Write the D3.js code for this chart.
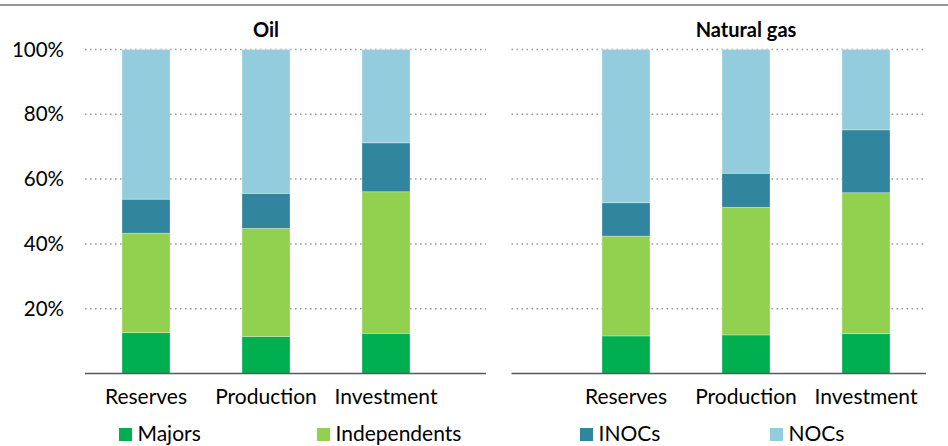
<!DOCTYPE html>
<html>
<head>
<meta charset="utf-8">
<script src="https://cdn.jsdelivr.net/npm/d3@7"></script>
<style>
  html, body { margin: 0; padding: 0; background: #fff; }
  svg { display: block; }
  text { font-family: Lato, "Open Sans", sans-serif; fill: #000; }
</style>
</head>
<body>
<svg id="chart" width="948" height="446"></svg>
<script>
// ---- data ----
const panels = ["Oil", "Natural gas"];
const categories = ["Reserves", "Production", "Investment"];
const seriesNames = ["Majors", "Independents", "INOCs", "NOCs"];
const seriesColors = ["#00B050", "#92D050", "#31859C", "#93CDDD"];
// shares in % (per panel, per category)
const oilMajors = [12.6, 11.4, 12.4];
const oilIndependents = [30.7, 33.4, 43.7];
const oilINOCs = [10.5, 10.8, 15.1];
const oilNOCs = [46.2, 44.4, 28.8];
const gasMajors = [11.6, 11.9, 12.3];
const gasIndependents = [30.8, 39.4, 43.5];
const gasINOCs = [10.3, 10.5, 19.4];
const gasNOCs = [47.3, 38.2, 24.8];
const yTicks = [0.2, 0.4, 0.6, 0.8, 1.0];

// ---- build rows ----
const panelSeries = {
  "Oil": [oilMajors, oilIndependents, oilINOCs, oilNOCs],
  "Natural gas": [gasMajors, gasIndependents, gasINOCs, gasNOCs]
};
const rows = [];
panels.forEach(p => {
  categories.forEach((c, i) => {
    const r = { key: p + "|" + c, panel: p, cat: c };
    seriesNames.forEach((s, j) => { r[s] = panelSeries[p][j][i] / 100; });
    rows.push(r);
  });
});
// x slots: three oil categories, one empty slot, three gas categories
const slots = [
  ...categories.map(c => "Oil|" + c),
  "gap",
  ...categories.map(c => "Natural gas|" + c)
];

const svg = d3.select("#chart");
const x = d3.scaleBand().domain(slots).range([86, 926]).paddingInner(0.6).paddingOuter(0.3);
const y = d3.scaleLinear().domain([0, 1]).range([373.5, 49.5]);

// top rule
svg.append("line").attr("x1", 0).attr("x2", 948).attr("y1", 5).attr("y2", 5)
  .attr("stroke", "#999").attr("stroke-width", 2);

// panel extents
const panelExtent = {
  "Oil": [85, 486],
  "Natural gas": [511.5, 926]
};

// gridlines
panels.forEach(p => {
  const [a, b] = panelExtent[p];
  svg.append("g").selectAll("line").data(yTicks).join("line")
    .attr("x1", a).attr("x2", b)
    .attr("y1", d => y(d)).attr("y2", d => y(d))
    .attr("stroke", "#9a9a9a").attr("stroke-width", 1.5)
    .attr("stroke-dasharray", "1.6,3.4");
});

// y axis labels
const yAxis = d3.axisLeft(y).tickValues(yTicks).tickFormat(d3.format(".0%")).tickSize(0).tickPadding(0);
const yg = svg.append("g").attr("transform", "translate(64,0)").call(yAxis);
yg.select(".domain").remove();
yg.selectAll("text").attr("font-size", 20.5).attr("font-family", "Lato, sans-serif").attr("fill", "#000");

// stacked bars
const stack = d3.stack().keys(seriesNames);
const stacked = stack(rows);
svg.append("g").selectAll("g").data(stacked).join("g")
  .attr("fill", (d, i) => seriesColors[i])
  .selectAll("rect").data(d => d).join("rect")
  .attr("x", d => x(d.data.key))
  .attr("width", x.bandwidth())
  .attr("y", d => y(d[1]))
  .attr("height", d => y(d[0]) - y(d[1]))
  .attr("stroke", "#ffffff").attr("stroke-opacity", 0.35).attr("stroke-width", 0.8);

// baselines
panels.forEach(p => {
  const [a, b] = panelExtent[p];
  svg.append("line").attr("x1", a).attr("x2", b).attr("y1", y(0)).attr("y2", y(0))
    .attr("stroke", "#595959").attr("stroke-width", 1.5);
});

// x axis labels
const xAxis = d3.axisBottom(x).tickValues(rows.map(r => r.key))
  .tickFormat(k => k.split("|")[1]).tickSize(0).tickPadding(0);
const xg = svg.append("g").attr("transform", `translate(0,${y(0)})`).call(xAxis);
xg.select(".domain").remove();
xg.selectAll("text").attr("dy", null).attr("y", 30.5).attr("font-size", 21)
  .attr("font-family", "Lato, sans-serif").attr("fill", "#000");

// panel titles
panels.forEach(p => {
  svg.append("text")
    .attr("x", x(p + "|Production") + x.bandwidth() / 2)
    .attr("y", 37)
    .attr("text-anchor", "middle")
    .attr("font-size", 20).attr("font-weight", "bold")
    .text(p);
});

// legend
const legendX = [119, 317, 580, 770];
const lg = svg.append("g").selectAll("g").data(seriesNames).join("g")
  .attr("transform", (d, i) => `translate(${legendX[i]},428)`);
lg.append("rect").attr("width", 13).attr("height", 13).attr("fill", (d, i) => seriesColors[i]);
lg.append("text").attr("x", 18.5).attr("y", 13).attr("font-size", 21).text(d => d);
</script>
</body>
</html>
